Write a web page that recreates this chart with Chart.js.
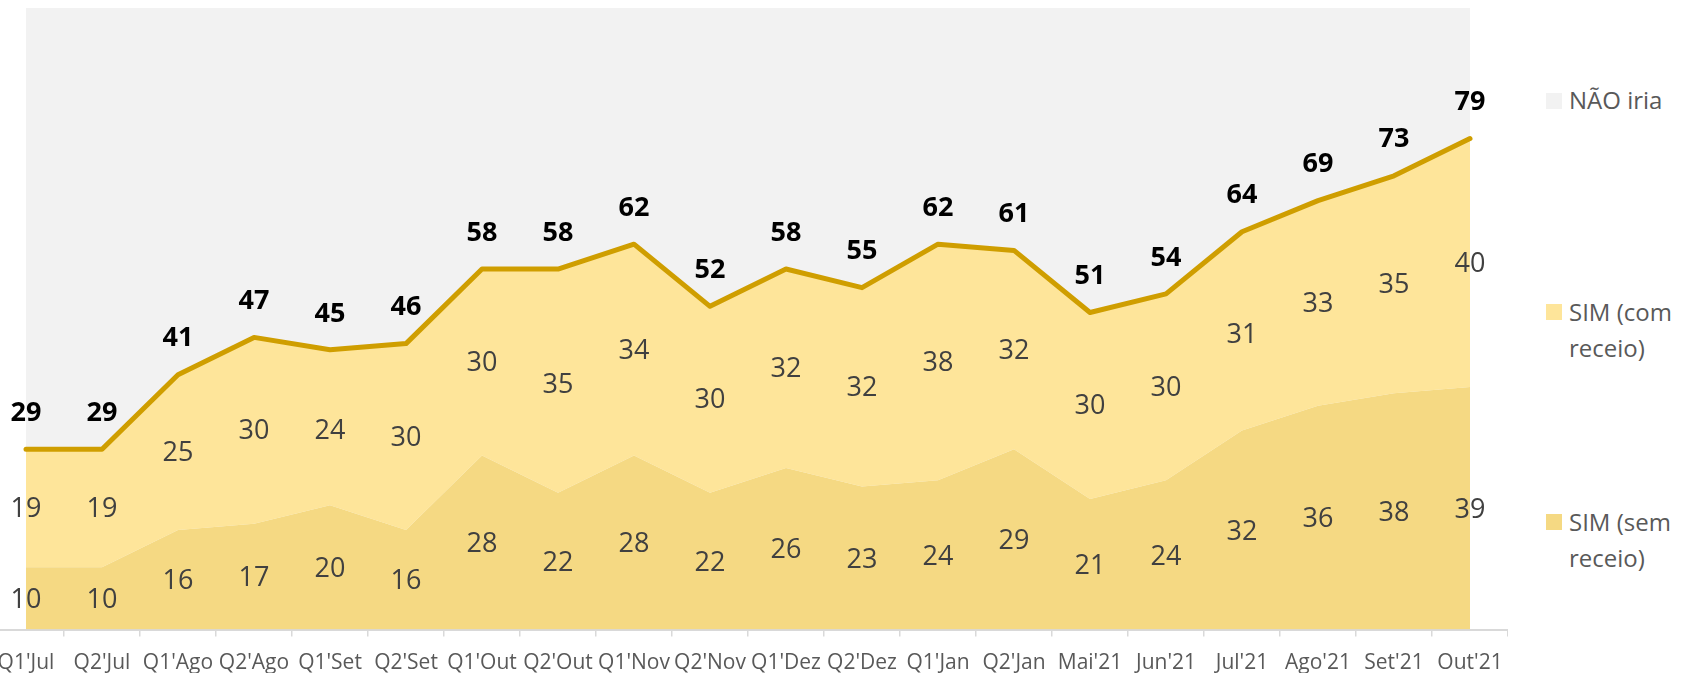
<!DOCTYPE html>
<html>
<head>
<meta charset="utf-8">
<script src="https://cdn.jsdelivr.net/npm/chart.js@4"></script>
<style>
html,body{margin:0;padding:0;background:#fff;overflow:hidden;}
body{width:1685px;height:673px;position:relative;font-family:"Open Sans",sans-serif;}
#chart{position:absolute;left:-12px;top:0;}
.lg{position:absolute;left:1546px;font-size:24px;line-height:36px;color:#595959;white-space:nowrap;}
.lg span{position:absolute;left:0;width:16px;height:16px;}
.lg div{margin-left:23px;}
</style>
</head>
<body>
<canvas id="chart" width="1520" height="673"></canvas>

<div class="lg" style="top:82px"><span style="top:11px;background:#F2F2F2"></span><div>NÃO iria</div></div>
<div class="lg" style="top:294px"><span style="top:10px;background:#FEE59A"></span><div>SIM (com<br>receio)</div></div>
<div class="lg" style="top:504px"><span style="top:10px;background:#F5D983"></span><div>SIM (sem<br>receio)</div></div>

<script>
/* ===== DATA ===== */
const labels=["Q1'Jul","Q2'Jul","Q1'Ago","Q2'Ago","Q1'Set","Q2'Set","Q1'Out","Q2'Out","Q1'Nov","Q2'Nov","Q1'Dez","Q2'Dez","Q1'Jan","Q2'Jan","Mai'21","Jun'21","Jul'21","Ago'21","Set'21","Out'21"];
const semReceio=[10,10,16,17,20,16,28,22,28,22,26,23,24,29,21,24,32,36,38,39];
const comReceio=[19,19,25,30,24,30,30,35,34,30,32,32,38,32,30,30,31,33,35,40];
const totalSim=[29,29,41,47,45,46,58,58,62,52,58,55,62,61,51,54,64,69,73,79];
const naoIria=[71,71,59,53,55,54,42,42,38,48,42,45,38,39,49,46,36,31,27,21];

const GOLD='#CF9E00',LIGHT='#FEE59A',DARK='#F5D983',GRAY='#F2F2F2';

/* ===== LABELS PLUGIN ===== */
const valueLabels={
id:'valueLabels',
afterDatasetsDraw(chart){
const ctx=chart.ctx,x=chart.scales.x,y=chart.scales.y;
ctx.save();
ctx.textAlign='center';
ctx.textBaseline='middle';
labels.forEach((l,i)=>{
let px=x.getPixelForValue(i);
ctx.font='27px "Open Sans"';
ctx.fillStyle='#404040';
ctx.fillText(semReceio[i],px,y.getPixelForValue(semReceio[i]/2)+2);
ctx.fillText(comReceio[i],px,y.getPixelForValue(semReceio[i]+comReceio[i]/2)+1);
ctx.font='bold 27px "Open Sans"';
ctx.fillStyle='#000';
ctx.fillText(totalSim[i],px,y.getPixelForValue(totalSim[i])-36);
});
ctx.restore();
}
};

/* ===== CHART ===== */
new Chart(document.getElementById('chart'),{
type:'line',
data:{
labels:labels,
datasets:[
{label:'SIM (sem receio)',data:semReceio,stack:'a',fill:'origin',backgroundColor:DARK,borderWidth:0,pointRadius:0},
{label:'Total SIM',data:totalSim,stack:'b',fill:0,backgroundColor:LIGHT,borderColor:GOLD,borderWidth:5,borderCapStyle:'round',borderJoinStyle:'round',pointRadius:0,tension:0},
{label:'NÃO iria',data:naoIria,stack:'b',fill:'-1',backgroundColor:GRAY,borderWidth:0,pointRadius:0}
]
},
options:{
responsive:false,
animation:false,
layout:{padding:{top:8,left:0,right:0,bottom:0}},
plugins:{legend:{display:false},tooltip:{enabled:false}},
scales:{
x:{
offset:true,
grid:{offset:true,drawOnChartArea:false,color:'#D9D9D9',lineWidth:1.5,tickLength:7},
border:{color:'#D9D9D9',width:2},
ticks:{color:'#595959',font:{family:'"Open Sans"',size:21},padding:14,maxRotation:0,autoSkip:false},
afterFit(s){s.height=43.5;s.paddingLeft=0;s.paddingRight=0;}
},
y:{display:false,stacked:true,min:0,max:100}
}
},
plugins:[valueLabels]
});
</script>
</body>
</html>
